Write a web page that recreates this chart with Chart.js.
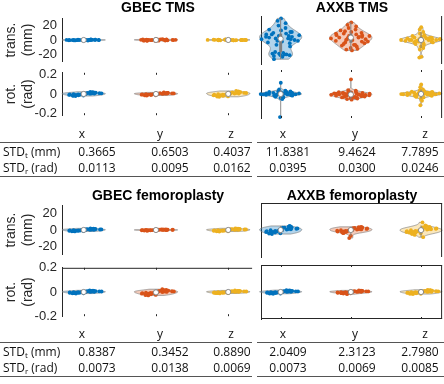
<!DOCTYPE html>
<html><head><meta charset="utf-8">
<script src="https://cdn.jsdelivr.net/npm/chart.js@4.4.0/dist/chart.umd.min.js"></script>
<style>
body{margin:0;background:#fff;}
#fig{position:relative;width:444px;height:384px;overflow:hidden;font-family:"Liberation Sans",Arial,sans-serif;color:#262626;background:#fff;}
canvas{position:absolute;}
.t{position:absolute;white-space:nowrap;}
.title{font-weight:bold;font-size:14px;color:#000;transform:translate(-50%,-50%);}
.ylab{font-size:14px;line-height:17px;text-align:center;width:80px;height:34px;transform:rotate(-90deg);color:#262626;}
.tb{font-family:"Open Sans",sans-serif;font-size:12px;color:#111;}
.c{transform:translate(-50%,-50%);}
.l{transform:translate(0,-50%);}
.rule{position:absolute;height:1px;background:#555;}
sub{font-size:8px;vertical-align:-2px;}
</style></head><body><div id="fig"></div>
<script>
// ---------------- data ----------------
const CATEGORIES = ['x', 'y', 'z'];
const TRANS_TICKS = [-20, 0, 20];
const ROT_TICKS = [-0.2, 0, 0.2];
const PANEL_TITLES = ['GBEC TMS', 'AXXB TMS', 'GBEC femoroplasty', 'AXXB femoroplasty'];

// GBEC TMS translation errors (mm)
const GBEC_TMS_TRANS_X = [0.2,-0.4,0.5,-0.1,0.3,-0.6,0.0,0.4,-0.3,0.1,-0.2,0.7,-0.5,0.2,-0.1,0.3,-0.4,0.6,0.0,-0.2,0.1,-0.7,0.4,-0.3,0.2,0.0,-0.1,0.5,-0.4,0.3];
const GBEC_TMS_TRANS_Y = [0.5,-0.8,1.0,-0.3,0.2,-1.1,0.7,-0.5,0.1,0.9,-0.6,0.3,-1.3,0.6,-0.2,0.4,-0.9,1.2,0.0,-0.4,0.8,-0.7,0.2,-0.1,0.6,-1.0,0.3,-0.3,0.9,0.1];
const GBEC_TMS_TRANS_Z = [0.3,-0.5,0.1,0.6,-0.2,0.4,-0.7,0.0,0.2,-0.3,0.5,-0.1,0.3,-0.6,0.8,-0.4,0.1,-0.2,0.4,0.0,-0.5,0.2,0.6,-0.3,0.1,-0.1,0.3,-0.4,0.2,0.0];
// GBEC TMS rotation errors (rad)
const GBEC_TMS_ROT_X = [0.005,-0.012,0.018,-0.004,0.009,-0.02,0.001,0.014,-0.008,0.003,-0.015,0.022,-0.002,0.01,-0.011,0.006,-0.018,0.013,-0.006,0.0,-0.009,0.016,-0.013,0.007,-0.001,0.011,-0.005,0.004,-0.016,0.008];
const GBEC_TMS_ROT_Y = [0.004,-0.01,0.012,-0.003,0.007,-0.015,0.001,0.01,-0.006,0.002,-0.012,0.016,-0.001,0.008,-0.009,0.005,-0.014,0.011,-0.004,0.0,-0.007,0.013,-0.011,0.006,-0.002,0.009,-0.004,0.003,-0.013,0.006];
const GBEC_TMS_ROT_Z = [0.008,-0.018,0.025,-0.006,0.013,-0.028,0.002,0.02,-0.012,0.004,-0.022,0.03,-0.003,0.015,-0.016,0.009,-0.026,0.019,-0.009,0.0,-0.013,0.023,-0.019,0.01,-0.002,0.016,-0.007,0.005,-0.024,0.012];

// AXXB TMS
const AXXB_TMS_TRANS_X = [27,24,21,18,15,13,12,10,9,8,7,6,5,4,3,2,1,0,-1,-2,-3,-4,-6,-8,-15,-16,-17,-18,-19,-19,-20,-21,-24,5,2,-1,7,10,-17,-18,4,1];
const AXXB_TMS_TRANS_Y = [22,19,17,15,13,12,10,9,8,7,6,5,5,4,3,3,2,1,1,0,-1,-2,-3,-4,-5,-6,-7,-8,-10,-11,-12,-13,8,4,0,-2,11,6,3,-6];
const AXXB_TMS_TRANS_Z = [16,13,10,8,6,5,4,3,3,2,2,1,1,1,0,0,0,0,-1,-1,-1,-2,-2,-3,-3,-4,-5,-6,-8,-10,-12,-21,-22,2,-1,1,0,3,-2,4];
const AXXB_TMS_ROT_X = [0.1,0.04,0.03,0.025,0.02,0.018,0.015,0.012,0.01,0.008,0.006,0.005,0.003,0.002,0.0,0.0,-0.001,-0.003,-0.005,-0.006,-0.008,-0.01,-0.012,-0.015,-0.018,-0.02,-0.025,-0.03,-0.035,-0.045,-0.205,0.007,-0.004,0.013,-0.009,0.022,-0.014,0.001,0.016,-0.002];
const AXXB_TMS_ROT_Y = [0.13,0.035,0.03,0.025,0.02,0.016,0.012,0.01,0.008,0.005,0.003,0.002,0.0,-0.001,-0.003,-0.005,-0.007,-0.009,-0.011,-0.013,-0.015,-0.018,-0.02,-0.022,-0.025,-0.028,-0.03,-0.033,-0.036,-0.04,-0.045,-0.05,0.006,-0.004,0.001,-0.012,0.009,-0.017,0.014,-0.026];
const AXXB_TMS_ROT_Z = [0.085,0.06,0.04,0.03,0.025,0.02,0.017,0.014,0.012,0.01,0.008,0.006,0.004,0.003,0.001,0.0,-0.001,-0.003,-0.005,-0.007,-0.009,-0.011,-0.013,-0.016,-0.019,-0.022,-0.026,-0.03,-0.04,-0.06,-0.1,0.005,-0.002,0.011,-0.008,0.018,-0.014,0.002,0.007,-0.004];

// GBEC femoroplasty
const GBEC_FEM_TRANS_X = [0.9,-1.2,1.6,-0.4,0.6,-1.8,0.1,1.1,-0.8,0.3,-1.4,2.0,-0.2,0.8,-1.0,0.5,-1.6,1.3,-0.6,0.0,-0.9,1.5,-1.1,0.7,-0.1,1.0,-0.5,0.4,-1.5,0.6];
const GBEC_FEM_TRANS_Y = [0.3,-0.5,0.6,-0.1,0.2,-0.7,0.0,0.4,-0.3,0.1,-0.6,0.8,-0.1,0.3,-0.4,0.2,-0.6,0.5,-0.2,0.0,-0.3,0.6,-0.4,0.3,0.0,0.4,-0.2,0.1,-0.6,0.2];
const GBEC_FEM_TRANS_Z = [1.0,-1.3,1.7,-0.4,0.6,-1.9,0.1,1.2,-0.8,0.3,-1.5,2.1,-0.2,0.9,-1.1,0.5,-1.7,1.4,-0.6,0.0,-0.9,1.6,-1.2,0.7,-0.1,1.1,-0.5,0.4,-1.6,0.6];
const GBEC_FEM_ROT_X = [0.004,-0.008,0.011,-0.002,0.005,-0.013,0.0,0.009,-0.005,0.002,-0.01,0.014,-0.001,0.006,-0.007,0.003,-0.011,0.008,-0.004,0.0,-0.006,0.01,-0.008,0.004,-0.001,0.007,-0.003,0.002,-0.011,0.005];
const GBEC_FEM_ROT_Y = [0.006,-0.018,0.017,-0.007,0.007,-0.028,-0.003,0.013,-0.013,0.0,-0.022,0.023,-0.005,0.009,-0.016,0.003,-0.025,0.012,-0.01,-0.003,-0.014,0.016,-0.019,0.005,-0.005,0.01,-0.009,0.001,-0.024,0.006];
const GBEC_FEM_ROT_Z = [0.004,-0.007,0.01,-0.002,0.005,-0.012,0.0,0.008,-0.005,0.002,-0.009,0.013,-0.001,0.006,-0.007,0.003,-0.01,0.008,-0.004,0.0,-0.006,0.009,-0.008,0.004,-0.001,0.007,-0.003,0.002,-0.01,0.005];

// AXXB femoroplasty
const AXXB_FEM_TRANS_X = [2.5,-3.0,4.0,-1.0,1.5,-4.5,0.0,3.0,-2.0,0.5,-3.5,4.5,-0.5,2.0,-2.5,1.0,-4.0,3.5,-1.5,0.0,-2.2,3.8,-2.8,1.8,-0.3,2.6,-1.2,0.8,-3.7,1.4];
const AXXB_FEM_TRANS_Y = [2.0,-2.5,3.0,-1.0,1.0,-3.5,0.0,2.5,-1.5,0.5,-3.0,3.5,-0.5,1.5,-2.0,1.0,-9.0,2.8,-1.2,0.0,-1.8,3.2,-2.2,1.8,-0.3,2.2,-0.8,0.6,-6.5,1.2];
const AXXB_FEM_TRANS_Z = [3.0,-3.5,8.5,-1.0,1.5,-4.5,0.0,5.0,-2.0,0.5,-3.0,-8.0,-0.5,2.0,-2.5,1.0,-5.5,3.5,-1.5,0.0,-2.2,4.2,-2.8,1.8,-0.3,2.6,-1.2,0.8,-3.7,1.4];
const AXXB_FEM_ROT_X = [0.004,-0.008,0.011,-0.002,0.005,-0.013,0.0,0.009,-0.005,0.002,-0.01,0.014,-0.001,0.006,-0.007,0.003,-0.011,0.008,-0.004,0.0,-0.006,0.01,-0.008,0.004,-0.001,0.007,-0.003,0.002,-0.011,0.005];
const AXXB_FEM_ROT_Y = [0.004,-0.007,0.01,-0.002,0.005,-0.012,0.0,0.008,-0.004,0.002,-0.009,0.012,-0.001,0.006,-0.006,0.003,-0.016,0.008,-0.004,0.0,-0.006,0.009,-0.008,0.004,-0.001,0.007,-0.003,0.002,-0.01,0.005];
const AXXB_FEM_ROT_Z = [0.005,-0.009,0.013,-0.002,0.006,-0.015,0.0,0.011,-0.006,0.002,-0.012,0.016,-0.001,0.007,-0.008,0.003,-0.013,0.01,-0.005,0.0,-0.007,0.012,-0.01,0.005,-0.001,0.008,-0.004,0.002,-0.013,0.006];

// table values
const STD_T_GBEC_TMS = [0.3665, 0.6503, 0.4037];
const STD_R_GBEC_TMS = [0.0113, 0.0095, 0.0162];
const STD_T_AXXB_TMS = [11.8381, 9.4624, 7.7895];
const STD_R_AXXB_TMS = [0.0395, 0.0300, 0.0246];
const STD_T_GBEC_FEM = [0.8387, 0.3452, 0.8890];
const STD_R_GBEC_FEM = [0.0073, 0.0138, 0.0069];
const STD_T_AXXB_FEM = [2.0409, 2.3123, 2.7980];
const STD_R_AXXB_FEM = [0.0073, 0.0069, 0.0085];

// jitter fractions (scatter spread inside violin)
const JITTER = [0.12,-0.64,0.81,-0.27,0.45,-0.88,0.03,0.67,-0.41,0.29,-0.73,0.91,-0.09,0.54,-0.55,0.36,-0.95,0.72,-0.18,0.08,-0.79,0.61,-0.33,0.85,-0.48,0.22,-0.69,0.49,-0.02,0.77,-0.6,0.17,-0.86,0.39,-0.24,0.94,-0.45,0.58,-0.13,0.31,-0.7,0.5];

// ---------------- style / layout ----------------
const SERIES_RGB = [[0,114,189],[217,83,25],[237,177,32]];
const VIOLIN_WIDTH = 0.3;
const AX = '#262626';
const COL_LEFT = {canvasLeft:0, canvasWidth:254, yW:62, padR:0, xmin:0.7, xmax:3.33, labels:true, center:158};
const COL_RIGHT = {canvasLeft:257, canvasWidth:187, yW:4, padR:1, xmin:0.72, xmax:3.30, labels:false, center:352};
const ROW_TMS_T = {top:16, h:48, ymin:-30, ymax:30, ticks:TRANS_TICKS};
const ROW_TMS_R = {top:70, h:48, ymin:-0.213, ymax:0.213, ticks:ROT_TICKS};
const ROW_FEM_T = {top:203, h:54, ymin:-30, ymax:30, ticks:TRANS_TICKS};
const ROW_FEM_R = {top:265, h:54, ymin:-0.2, ymax:0.2, ticks:ROT_TICKS};
const PAD = 10;

function quant(s, p) {
  const n = s.length, pos = p * n - 0.5;
  if (pos <= 0) return s[0];
  if (pos >= n - 1) return s[n - 1];
  const i = Math.floor(pos);
  return s[i] + (pos - i) * (s[i + 1] - s[i]);
}
function buildGroup(vals, ci) {
  const cat = ci + 1;
  const s = vals.slice().sort((a, b) => a - b);
  const n = s.length, lo = s[0], hi = s[n - 1];
  const med = quant(s, 0.5);
  const dev = s.map(v => Math.abs(v - med)).sort((a, b) => a - b);
  let sig = quant(dev, 0.5) / 0.6745;
  if (!(sig > 0)) sig = (hi - lo) / 4 || 1e-6;
  const bw = sig * Math.pow(4 / (3 * n), 0.2);
  const dens = y => s.reduce((a, v) => a + Math.exp(-0.5 * ((y - v) / bw) ** 2), 0);
  const NG = 80, ys = [], d = [];
  for (let i = 0; i < NG; i++) { const y = lo + (hi - lo) * i / (NG - 1); ys.push(y); d.push(dens(y)); }
  const dmax = Math.max(...d);
  const w = d.map(v => VIOLIN_WIDTH * v / dmax);
  const halfW = y => VIOLIN_WIDTH * dens(y) / dmax;
  const q1 = quant(s, 0.25), q3 = quant(s, 0.75), iqr = q3 - q1;
  const wlo = Math.min(...s.filter(v => v >= q1 - 1.5 * iqr));
  const whi = Math.max(...s.filter(v => v <= q3 + 1.5 * iqr));
  const pts = vals.map((v, i) => ({x: cat + JITTER[i % JITTER.length] * halfW(v), y: v}));
  const [r, g, b] = SERIES_RGB[ci];
  return {cat, ys, w, q1, q3, med, wlo, whi, pts,
    color: `rgb(${r},${g},${b})`, fill: `rgba(${r},${g},${b},0.3)`};
}

const violinPlugin = {
  id: 'violins',
  beforeDatasetsDraw(chart, args, o) {
    const xs = chart.scales.x, ys = chart.scales.y, ctx = chart.ctx;
    ctx.save();
    o.groups.forEach(g => {
      ctx.beginPath();
      g.ys.forEach((yv, i) => {
        const px = xs.getPixelForValue(g.cat - g.w[i]), py = ys.getPixelForValue(yv);
        i ? ctx.lineTo(px, py) : ctx.moveTo(px, py);
      });
      for (let i = g.ys.length - 1; i >= 0; i--)
        ctx.lineTo(xs.getPixelForValue(g.cat + g.w[i]), ys.getPixelForValue(g.ys[i]));
      ctx.closePath();
      ctx.fillStyle = g.fill; ctx.fill();
      ctx.strokeStyle = 'rgba(128,128,128,0.85)'; ctx.lineWidth = 0.8; ctx.stroke();
    });
    ctx.restore();
  },
  afterDatasetsDraw(chart, args, o) {
    const xs = chart.scales.x, ys = chart.scales.y, ctx = chart.ctx;
    ctx.save();
    o.groups.forEach(g => {
      const cx = xs.getPixelForValue(g.cat);
      ctx.strokeStyle = '#808080'; ctx.lineWidth = 1;
      ctx.beginPath(); ctx.moveTo(cx, ys.getPixelForValue(g.whi)); ctx.lineTo(cx, ys.getPixelForValue(g.wlo)); ctx.stroke();
      const t = ys.getPixelForValue(g.q3), b = ys.getPixelForValue(g.q1);
      ctx.fillStyle = '#808080'; ctx.fillRect(cx - 1.5, t, 3, Math.max(b - t, 0.8));
      ctx.beginPath(); ctx.arc(cx, ys.getPixelForValue(g.med), 2.6, 0, Math.PI * 2);
      ctx.fillStyle = '#fff'; ctx.fill(); ctx.strokeStyle = '#808080'; ctx.lineWidth = 0.9; ctx.stroke();
    });
    ctx.restore();
  },
  afterDraw(chart, args, o) {
    const ca = chart.chartArea, ctx = chart.ctx, xs = chart.scales.x;
    ctx.save(); ctx.strokeStyle = AX; ctx.lineWidth = 1;
    const f = o.frame || {};
    ctx.beginPath();
    if (f.top) { ctx.moveTo(ca.left, ca.top + 0.5); ctx.lineTo(ca.right, ca.top + 0.5); }
    if (f.bottom) { ctx.moveTo(ca.left, ca.bottom - 0.5); ctx.lineTo(ca.right, ca.bottom - 0.5); }
    if (f.right) { ctx.moveTo(ca.right - 0.5, ca.top); ctx.lineTo(ca.right - 0.5, ca.bottom); }
    if (o.xticks) {
      o.groups.forEach(g => {
        const x = Math.round(xs.getPixelForValue(g.cat)) + 0.5;
        ctx.moveTo(x, ca.top); ctx.lineTo(x, ca.top + 2);
        ctx.moveTo(x, ca.bottom); ctx.lineTo(x, ca.bottom - 2);
      });
    }
    ctx.stroke(); ctx.restore();
  }
};

const fig = document.getElementById('fig');
function makePlot(col, row, series, frame, xticks) {
  const cv = document.createElement('canvas');
  cv.width = col.canvasWidth; cv.height = row.h + 2 * PAD;
  cv.style.left = col.canvasLeft + 'px'; cv.style.top = (row.top - PAD) + 'px';
  fig.appendChild(cv);
  const groups = series.map((v, i) => buildGroup(v, i));
  new Chart(cv, {
    type: 'scatter',
    data: {datasets: groups.map((g, i) => ({
      label: CATEGORIES[i], data: g.pts, backgroundColor: g.color, borderWidth: 0,
      pointRadius: 1.9, pointHoverRadius: 1.9, clip: false }))},
    options: {
      responsive: false, animation: false, devicePixelRatio: 1, events: [],
      layout: {padding: {top: PAD, bottom: PAD, left: 0, right: col.padR}},
      plugins: {legend: {display: false}, tooltip: {enabled: false},
        violins: {groups, frame, xticks}},
      scales: {
        x: {type: 'linear', min: col.xmin, max: col.xmax, display: false},
        y: {type: 'linear', min: row.ymin, max: row.ymax, position: 'left',
          afterFit: s => { s.width = col.yW; },
          afterBuildTicks: s => { s.ticks = row.ticks.map(v => ({value: v})); },
          grid: {display: false, drawTicks: false},
          border: {display: true, color: AX, width: 1},
          ticks: {display: col.labels, padding: 5, color: AX,
            font: {family: 'Liberation Sans', size: 13}, callback: v => String(v)}}
      }
    },
    plugins: [violinPlugin]
  });
}

makePlot(COL_LEFT, ROW_TMS_T, [GBEC_TMS_TRANS_X, GBEC_TMS_TRANS_Y, GBEC_TMS_TRANS_Z], {}, false);
makePlot(COL_LEFT, ROW_TMS_R, [GBEC_TMS_ROT_X, GBEC_TMS_ROT_Y, GBEC_TMS_ROT_Z], {}, true);
makePlot(COL_RIGHT, ROW_TMS_T, [AXXB_TMS_TRANS_X, AXXB_TMS_TRANS_Y, AXXB_TMS_TRANS_Z], {right: true}, false);
makePlot(COL_RIGHT, ROW_TMS_R, [AXXB_TMS_ROT_X, AXXB_TMS_ROT_Y, AXXB_TMS_ROT_Z], {right: true}, true);
makePlot(COL_LEFT, ROW_FEM_T, [GBEC_FEM_TRANS_X, GBEC_FEM_TRANS_Y, GBEC_FEM_TRANS_Z], {}, false);
makePlot(COL_LEFT, ROW_FEM_R, [GBEC_FEM_ROT_X, GBEC_FEM_ROT_Y, GBEC_FEM_ROT_Z], {top: true}, true);
makePlot(COL_RIGHT, ROW_FEM_T, [AXXB_FEM_TRANS_X, AXXB_FEM_TRANS_Y, AXXB_FEM_TRANS_Z], {top: true, right: true}, false);
makePlot(COL_RIGHT, ROW_FEM_R, [AXXB_FEM_ROT_X, AXXB_FEM_ROT_Y, AXXB_FEM_ROT_Z], {top: true, bottom: true, right: true}, true);

// ---------------- text ----------------
function addText(html, cls, x, y) {
  const d = document.createElement('div');
  d.className = 't ' + cls; d.innerHTML = html;
  d.style.left = x + 'px'; d.style.top = y + 'px';
  fig.appendChild(d); return d;
}
function addRule(x1, x2, y) {
  const d = document.createElement('div');
  d.className = 'rule'; d.style.left = x1 + 'px'; d.style.width = (x2 - x1) + 'px'; d.style.top = y + 'px';
  fig.appendChild(d);
}
addText(PANEL_TITLES[0], 'title', COL_LEFT.center, 7);
addText(PANEL_TITLES[1], 'title', COL_RIGHT.center, 7);
addText(PANEL_TITLES[2], 'title', COL_LEFT.center, 195);
addText(PANEL_TITLES[3], 'title', COL_RIGHT.center, 195);

function ylabel(lines, cy) {
  addText(lines, 'ylab', 18.5 - 40, cy - 17);
}
ylabel('trans.<br>(mm)', ROW_TMS_T.top + ROW_TMS_T.h / 2);
ylabel('rot.<br>(rad)', ROW_TMS_R.top + ROW_TMS_R.h / 2);
ylabel('trans.<br>(mm)', ROW_FEM_T.top + ROW_FEM_T.h / 2);
ylabel('rot.<br>(rad)', ROW_FEM_R.top + ROW_FEM_R.h / 2);

const HEAD_X_L = [82, 160, 231], HEAD_X_R = [283, 355, 425];
const NUM_X_L = [97, 170, 232], NUM_X_R = [288, 357, 420];
function table(yHead, tL, rL, tR, rR) {
  const y1 = yHead + 18, y2 = yHead + 34;
  CATEGORIES.forEach((c, i) => {
    addText(c, 'tb c', HEAD_X_L[i], yHead);
    addText(c, 'tb c', HEAD_X_R[i], yHead);
    addText(tL[i].toFixed(4), 'tb c', NUM_X_L[i], y1);
    addText(rL[i].toFixed(4), 'tb c', NUM_X_L[i], y2);
    addText(tR[i].toFixed(4), 'tb c', NUM_X_R[i], y1);
    addText(rR[i].toFixed(4), 'tb c', NUM_X_R[i], y2);
  });
  addText('STD<sub>t</sub> (mm)', 'tb l', 3, y1);
  addText('STD<sub>r</sub> (rad)', 'tb l', 3, y2);
  addRule(0, 252, yHead + 9); addRule(257, 444, yHead + 9);
  addRule(0, 252, yHead + 43); addRule(257, 444, yHead + 43);
}
table(133, STD_T_GBEC_TMS, STD_R_GBEC_TMS, STD_T_AXXB_TMS, STD_R_AXXB_TMS);
table(333, STD_T_GBEC_FEM, STD_R_GBEC_FEM, STD_T_AXXB_FEM, STD_R_AXXB_FEM);
</script></body></html>
